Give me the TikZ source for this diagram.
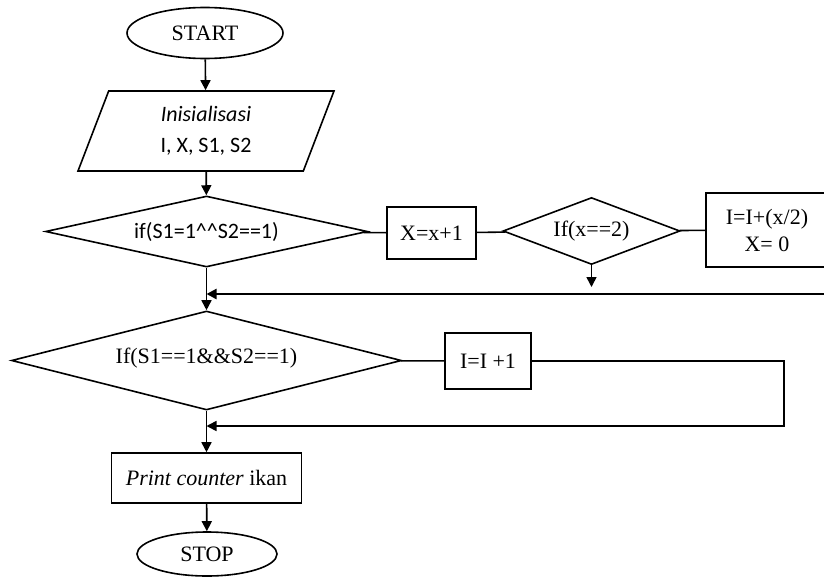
\documentclass[tikz,border=0pt]{standalone}
\usepackage{fontspec}
\setmainfont{Liberation Serif}
\newfontfamily\calibri{Carlito}
\usetikzlibrary{shapes.geometric,arrows.meta}

\begin{document}
\begin{tikzpicture}[x=0.5pt,y=-0.5pt,line width=0.8pt,font=\fontsize{11}{13.5}\selectfont,
  terminal/.style={draw,ellipse,inner sep=0pt},
  masukan/.style={draw,trapezium,trapezium left angle=58,trapezium right angle=122,
    trapezium stretches body,inner sep=0pt},
  kotak/.style={draw,rectangle,inner sep=0pt},
  cek/.style={draw,diamond,inner sep=0pt},
  arr/.style={-{Triangle[length=5pt,width=5pt]}}]
\useasboundingbox (0,0) rectangle (824,578);
\clip (0,0) rectangle (824,578);
\node[terminal,minimum width=78pt,minimum height=25.5pt] (start) at (205,33) {START};
\node[masukan,minimum width=128pt,minimum height=40pt,align=center] (init) at (206,131)
  {\calibri\itshape Inisialisasi\\[2pt]\calibri I, X, S1, S2};
\node[cek,aspect=4.5,minimum width=161pt,minimum height=35.5pt] (cek1) at (206.5,231.5)
  {\calibri if(S1=1\textasciicircum\textasciicircum S2==1)};
\node[kotak,minimum width=44.5pt,minimum height=26pt] (tambahx) at (431.5,233) {X=x+1};
\node[cek,aspect=2.6,minimum width=88.5pt,minimum height=33.5pt] (cek2) at (591.5,231) {If(x==2)};
\node[kotak,minimum width=61pt,minimum height=37pt,align=center] (hitung) at (767,230)
  {I=I+(x/2)\\X= 0};
\node[cek,aspect=3.9,minimum width=195pt,minimum height=49.5pt] (cek3) at (206.5,360.5)
  {\raisebox{4.5pt}{If(S1==1\&\&S2==1)}};
\node[kotak,minimum width=43pt,minimum height=28pt] (tambahi) at (488,361) {I=I +1};
\node[kotak,minimum width=95pt,minimum height=25pt] (cetak) at (206.5,478)
  {\textit{Print counter} ikan};
\node[terminal,minimum width=70pt,minimum height=22pt] (stop) at (207,554) {STOP};
\coordinate (cek2end) at (591.5,287);
\coordinate (kanan1) at (824,294);
\coordinate (gabung1) at (206.5,294);
\coordinate (belok) at (784,426);
\coordinate (gabung2) at (206.5,426);
\draw[arr] (start) -- (init);
\draw[arr] (init) -- (cek1);
\draw (cek1) -- (tambahx);
\draw (tambahx) -- (cek2);
\draw (cek2) -- (hitung);
\draw[arr] (cek2) -- (cek2end);
\draw[arr] (cek1) -- (cek3);
\draw[arr,line width=1.1pt] (kanan1) -- (gabung1);
\draw (cek3) -- (tambahi);
\draw[arr] (tambahi) -| (belok) -- (gabung2);
\draw[arr] (cek3) -- (cetak);
\draw[arr] (cetak) -- (stop);
\end{tikzpicture}
\end{document}
